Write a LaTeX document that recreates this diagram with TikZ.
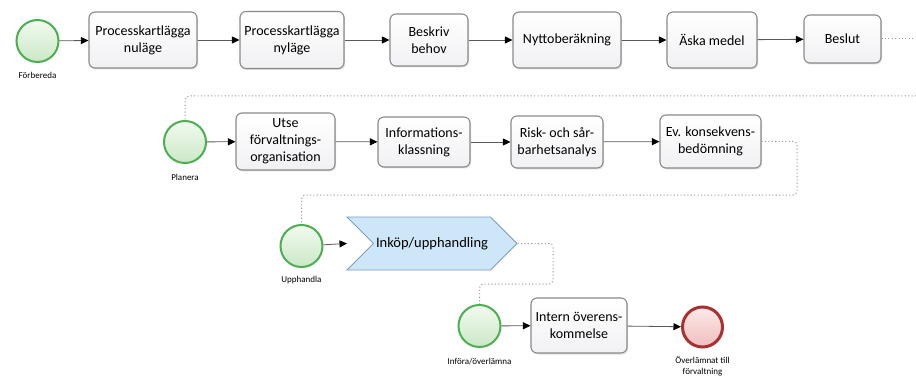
\documentclass[tikz,border=0pt]{standalone}
\usepackage{fontspec}
\setmainfont{Carlito}
\usetikzlibrary{arrows.meta,shapes.symbols,shadows}
\definecolor{startline}{HTML}{4DAE52}
\definecolor{starttop}{HTML}{F2FAF0}
\definecolor{startbot}{HTML}{CBE8C6}
\definecolor{endline}{HTML}{A83232}
\definecolor{endtop}{HTML}{FCEAEA}
\definecolor{endbot}{HTML}{F0BDBD}
\definecolor{chevfill}{HTML}{CDE6F8}
\definecolor{chevline}{HTML}{7E9EC2}
\definecolor{boxline}{HTML}{8A8A8A}
\definecolor{boxbot}{HTML}{F1F1F4}
\definecolor{flowline}{HTML}{5A5A5A}
\definecolor{dotcol}{HTML}{9A9A9A}
\begin{document}
\begin{tikzpicture}[x=1pt,y=-1pt,
  task/.style={draw=boxline, line width=1.1pt, rounded corners=6pt,
    top color=white, bottom color=boxbot,
    drop shadow={opacity=0.25, shadow xshift=1pt, shadow yshift=-1.5pt},
    align=center, inner sep=2pt, font=\fontsize{14}{17}\selectfont},
  startev/.style={circle, draw=startline, line width=2pt, minimum size=42pt,
    inner sep=0pt, top color=starttop, bottom color=startbot},
  endev/.style={circle, draw=endline, line width=3pt, minimum size=40pt,
    inner sep=0pt, top color=endtop, bottom color=endbot},
  evlabel/.style={font=\fontsize{9}{11}\selectfont, align=center, inner sep=0pt},
  flow/.style={draw=flowline, line width=0.8pt,
    -{Triangle[length=7.5pt,width=7pt,fill=black,color=black]}},
  dotl/.style={draw=dotcol, line width=1pt, dash pattern=on 1.1pt off 2.3pt,
    rounded corners=4pt}]
\useasboundingbox (0,0) rectangle (916,377);
\fill[white] (0,0) rectangle (916,377);

% Row 1
\node[startev] (c1) at (37.5,41) {};
\node[evlabel] (l1) at (37.5,75) {Förbereda};
\node[task, minimum width=108pt, minimum height=56pt] (b1) at (143,40) {Processkartlägga\\nuläge};
\node[task, minimum width=104pt, minimum height=57pt] (b2) at (292,40) {Processkartlägga\\nyläge};
\node[task, minimum width=78pt, minimum height=52pt] (b3) at (429,40) {Beskriv\\behov};
\node[task, minimum width=108pt, minimum height=56pt] (b4) at (567,40) {Nyttoberäkning};
\node[task, minimum width=90pt, minimum height=56pt] (b5) at (712,40) {Äska medel};
\node[task, minimum width=77pt, minimum height=48pt] (b6) at (842.5,39) {Beslut};

% Row 2
\node[startev] (c2) at (185,142) {};
\node[evlabel] (l2) at (185,177) {Planera};
\node[task, minimum width=99pt, minimum height=57pt] (b7) at (285.5,141.5) {Utse\\förvaltnings-\\organisation};
\node[task, minimum width=92pt, minimum height=50pt] (b8) at (424,142) {Informations-\\klassning};
\node[task, minimum width=92pt, minimum height=52pt] (b9) at (557,142) {Risk- och sår-\\barhetsanalys};
\node[task, minimum width=101pt, minimum height=53pt] (b10) at (710.5,141.5) {Ev. konsekvens-\\bedömning};

% Row 3
\node[startev] (c3) at (301.5,246) {};
\node[evlabel] (l3) at (301.5,280) {Upphandla};
\node[signal, signal to=east, signal from=west, signal pointer angle=90,
  draw=chevline, line width=0.9pt, fill=chevfill,
  minimum width=170pt, minimum height=53pt, inner sep=0pt,
  font=\fontsize{14.5}{17}\selectfont] (chev) at (432,243.5) {Inköp/upphandling};
\coordinate (chevin) at (347,243.5);

% Row 4
\node[startev] (c4) at (479.5,326) {};
\node[evlabel] (l4) at (479.5,362) {Införa/överlämna};
\node[task, minimum width=96pt, minimum height=55pt] (b11) at (579,325.5) {Intern överens-\\kommelse};
\node[endev] (c5) at (702.5,327) {};
\node[evlabel, font=\fontsize{9}{10.5}\selectfont] (l5) at (702.5,366) {Överlämnat till\\förvaltning};

% Flows
\draw[flow] (c1) -- (b1);
\draw[flow] (b1) -- (b2);
\draw[flow] (b2) -- (b3);
\draw[flow] (b3) -- (b4);
\draw[flow] (b4) -- (b5);
\draw[flow] (b5) -- (b6);
\draw[flow] (c2) -- (b7);
\draw[flow] (b7) -- (b8);
\draw[flow] (b8) -- (b9);
\draw[flow] (b9) -- (b10);
\draw[flow] (c3) -- (chevin);
\draw[flow] (c4) -- (b11);
\draw[flow] (b11) -- (c5);

% Dotted connectors
\coordinate (e1) at (916,39);
\coordinate (e2) at (916,96);
\draw[dotl] (b6.east) -- (e1);
\draw[dotl] (e2) -| (c2.north);
\draw[dotl] (b10.east) -- (797,141.5) -- (797,195) -| (c3.north);
\draw[dotl] (chev.east) -- (553,243.5) -- (553,284) -| (c4.north);
\end{tikzpicture}
\end{document}
